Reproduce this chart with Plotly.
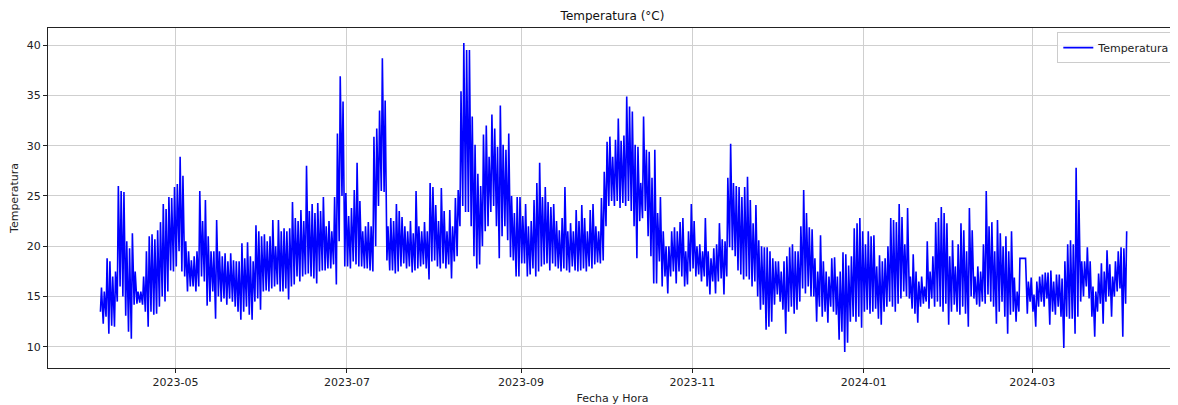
import pandas as pd
import plotly.graph_objects as go

# Daily maximum / minimum temperatures (°C), starting 2023-04-04
max_2023_04 = [15.9, 15.5, 18.8, 18.5, 17.0, 17.5, 26.0, 25.5, 25.4, 20.5, 19.8, 21.3, 17.5, 15.5,
               15.5, 17.0, 19.5, 21.0, 21.2, 20.7, 21.6, 22.4, 24.2, 23.7, 24.9, 24.8, 25.9]
min_2023_04 = [13.5, 12.3, 13.0, 11.3, 12.1, 12.0, 14.5, 16.0, 15.0, 13.1, 11.5, 10.8, 14.2, 14.3,
               14.4, 14.2, 13.5, 12.0, 13.5, 13.2, 13.3, 14.0, 15.0, 14.5, 15.5, 17.6, 17.5]
max_2023_05 = [26.2, 28.9, 27.0, 20.5, 19.5, 18.6, 19.0, 19.5, 25.5, 22.5, 24.6, 21.0, 19.5, 19.5,
               22.6, 19.5, 19.0, 19.3, 18.5, 19.3, 18.6, 18.5, 18.5, 20.3, 18.8, 20.4, 19.0, 18.5,
               22.1, 21.5, 21.0]
min_2023_05 = [18.0, 19.5, 17.5, 17.0, 15.5, 16.0, 16.0, 15.5, 16.0, 17.0, 16.5, 14.1, 14.5, 15.5,
               12.8, 15.0, 14.5, 14.8, 14.2, 14.8, 14.5, 14.0, 13.5, 12.7, 13.5, 14.0, 13.2, 12.7,
               14.5, 14.8, 13.7]
max_2023_06 = [21.2, 20.5, 21.0, 22.6, 20.0, 22.6, 21.5, 21.8, 21.5, 21.8, 24.4, 22.8, 22.5, 23.6,
               22.5, 28.0, 23.5, 24.2, 23.3, 24.3, 23.5, 24.9, 22.0, 22.5, 21.5, 24.9, 31.2, 36.9,
               34.4, 25.3]
min_2023_06 = [15.5, 15.6, 15.5, 15.8, 16.0, 16.2, 15.5, 15.5, 15.8, 14.7, 16.0, 16.2, 17.0, 16.5,
               17.0, 17.2, 17.3, 17.0, 16.8, 16.3, 17.5, 17.6, 17.6, 17.8, 17.8, 18.2, 16.2, 20.5,
               25.0, 18.0]
max_2023_07 = [23.0, 23.8, 25.6, 28.3, 24.5, 21.5, 22.0, 22.4, 22.0, 30.9, 31.7, 33.5, 38.7, 34.5,
               22.0, 22.8, 22.5, 24.2, 23.5, 22.9, 22.0, 21.5, 22.5, 21.3, 25.5, 22.0, 21.5, 22.4,
               21.5, 26.3, 25.9]
min_2023_07 = [18.0, 17.8, 18.5, 18.2, 18.0, 18.0, 17.8, 17.8, 17.6, 17.5, 20.0, 24.0, 25.5, 25.4,
               18.6, 17.6, 17.6, 17.3, 17.5, 18.0, 18.3, 17.8, 18.0, 17.4, 17.6, 17.8, 18.0, 18.2,
               17.8, 16.7, 18.5]
max_2023_08 = [24.1, 22.5, 25.8, 23.5, 21.5, 23.6, 22.0, 24.8, 25.6, 35.4, 40.2, 39.5, 39.5, 32.9,
               30.1, 27.2, 26.0, 31.1, 32.0, 28.9, 33.1, 31.7, 29.9, 34.0, 30.1, 29.6, 31.2, 25.0,
               23.3, 24.9, 24.9]
min_2023_08 = [18.6, 18.0, 17.8, 18.3, 17.8, 18.2, 16.8, 18.5, 19.0, 22.0, 24.0, 23.4, 23.4, 22.0,
               19.0, 17.8, 18.2, 20.0, 21.5, 22.0, 23.4, 24.0, 22.0, 18.8, 21.0, 22.0, 20.6, 18.9,
               18.6, 17.0, 17.0]
max_2023_09 = [23.0, 24.2, 22.0, 22.5, 24.6, 26.3, 28.3, 24.9, 25.9, 24.4, 23.9, 24.2, 22.5, 21.6,
               22.8, 25.9, 21.5, 22.3, 21.5, 23.6, 22.5, 24.1, 22.8, 21.5, 23.6, 24.2, 22.0, 21.5,
               24.8, 27.4]
min_2023_09 = [18.3, 18.3, 17.0, 17.2, 17.8, 17.0, 17.5, 18.0, 18.2, 18.3, 17.6, 18.3, 18.0, 17.8,
               17.5, 17.8, 17.6, 17.4, 18.0, 17.6, 17.5, 17.6, 17.8, 17.5, 18.0, 17.8, 18.2, 18.4,
               18.3, 18.6]
max_2023_10 = [30.4, 30.9, 28.9, 30.6, 32.7, 30.5, 31.0, 34.9, 33.9, 33.4, 30.1, 29.9, 26.3, 32.9,
               29.6, 29.4, 26.8, 29.6, 23.3, 24.9, 21.5, 20.0, 20.0, 21.5, 21.9, 21.5, 22.4, 22.8,
               19.5, 21.5, 24.2]
min_2023_10 = [22.0, 24.0, 24.5, 24.0, 24.5, 23.8, 24.3, 24.0, 24.5, 23.5, 22.0, 18.8, 22.5, 22.8,
               23.5, 21.0, 19.0, 16.3, 16.3, 18.5, 16.0, 17.0, 15.3, 17.0, 17.5, 16.3, 17.5, 17.0,
               16.0, 16.2, 17.5]
max_2023_11 = [22.5, 20.0, 20.2, 19.5, 22.8, 19.5, 18.8, 19.8, 20.2, 22.3, 20.7, 20.5, 26.8, 30.2,
               26.3, 26.0, 25.9, 24.9, 25.9, 26.9, 24.6, 22.3, 24.1, 20.6, 20.0, 19.9, 19.9, 19.5,
               18.8, 18.5]
min_2023_11 = [17.8, 17.0, 17.2, 16.5, 17.0, 16.0, 15.2, 16.5, 15.3, 16.5, 16.8, 15.2, 17.0, 19.9,
               19.6, 19.0, 17.6, 17.2, 16.7, 17.0, 16.7, 16.0, 16.5, 15.0, 13.7, 14.2, 11.7, 12.0,
               12.5, 14.2]
max_2023_12 = [18.5, 17.5, 18.5, 19.0, 19.9, 20.2, 19.5, 19.5, 22.0, 25.6, 23.3, 21.9, 21.7, 18.8,
               17.5, 21.1, 18.5, 17.5, 17.0, 18.8, 18.9, 17.0, 17.5, 19.4, 19.2, 18.1, 19.0, 21.8,
               22.3, 22.8, 21.5]
min_2023_12 = [15.2, 14.5, 13.7, 11.3, 13.5, 14.0, 13.3, 13.7, 14.5, 15.8, 15.3, 16.0, 15.0, 15.0,
               12.5, 14.0, 13.0, 13.5, 12.4, 14.0, 13.5, 13.2, 10.7, 11.5, 9.5, 10.4, 12.5, 13.0,
               12.5, 13.0, 11.9]
max_2024_01 = [20.2, 21.5, 21.0, 21.1, 18.0, 19.1, 18.5, 18.8, 20.0, 22.8, 22.6, 22.4, 24.2, 22.9,
               20.2, 23.8, 17.0, 19.2, 17.5, 16.5, 17.0, 16.0, 20.5, 17.5, 19.0, 22.4, 22.8, 23.9,
               23.3, 22.3, 19.0]
min_2024_01 = [13.5, 13.7, 13.3, 13.5, 13.8, 12.8, 12.2, 13.5, 14.0, 14.5, 14.0, 13.5, 14.3, 14.8,
               15.5, 15.0, 14.8, 13.8, 13.3, 12.4, 14.0, 14.3, 14.5, 13.8, 14.8, 14.0, 14.5, 14.0,
               13.5, 14.3, 12.2]
max_2024_02 = [20.6, 18.0, 20.2, 22.3, 21.6, 19.5, 23.8, 21.6, 17.0, 18.0, 17.5, 20.2, 25.5, 22.0,
               22.4, 19.5, 22.6, 21.3, 20.0, 21.0, 19.5, 21.5, 16.9, 15.5, 18.8, 18.8, 18.8, 16.5,
               16.9]
min_2024_02 = [13.5, 14.2, 13.5, 13.2, 14.0, 13.3, 12.0, 15.0, 14.8, 14.2, 14.0, 14.5, 14.3, 15.2,
               14.5, 14.0, 12.3, 13.5, 14.5, 13.0, 11.3, 13.2, 13.5, 12.5, 13.5, 18.8, 18.8, 13.3,
               14.5]
max_2024_03 = [15.2, 16.5, 17.0, 17.2, 17.4, 17.4, 17.6, 16.5, 17.2, 17.2, 16.8, 18.5, 20.2, 20.6,
               20.2, 27.8, 24.6, 18.5, 18.5, 19.9, 18.5, 16.0, 15.5, 17.3, 18.3, 17.5, 19.6, 18.2,
               17.0, 18.5, 19.5]
min_2024_03 = [13.5, 12.0, 14.0, 14.5, 14.0, 14.8, 12.2, 13.5, 13.2, 14.0, 13.0, 9.9, 13.0, 12.8,
               12.8, 11.3, 13.0, 14.5, 15.0, 16.0, 14.8, 13.0, 11.0, 13.5, 14.3, 12.3, 14.5, 15.0,
               13.0, 15.0, 15.5]
max_2024_04 = [19.9, 19.8, 21.5]
min_2024_04 = [15.8, 11.0, 14.3]

start_date = "2023-04-04"
tick_dates = ["2023-05-01", "2023-07-01", "2023-09-01", "2023-11-01", "2024-01-01", "2024-03-01"]
tick_labels = ["2023-05", "2023-07", "2023-09", "2023-11", "2024-01", "2024-03"]
y_ticks = [10, 15, 20, 25, 30, 35, 40]

daily_max = (max_2023_04 + max_2023_05 + max_2023_06 + max_2023_07 + max_2023_08 + max_2023_09 +
             max_2023_10 + max_2023_11 + max_2023_12 + max_2024_01 + max_2024_02 + max_2024_03 +
             max_2024_04)
daily_min = (min_2023_04 + min_2023_05 + min_2023_06 + min_2023_07 + min_2023_08 + min_2023_09 +
             min_2023_10 + min_2023_11 + min_2023_12 + min_2024_01 + min_2024_02 + min_2024_03 +
             min_2024_04)

t0 = pd.Timestamp(start_date)
xs, ys = [], []
for i, (lo, hi) in enumerate(zip(daily_min, daily_max)):
    day = t0 + pd.Timedelta(days=i)
    xs += [day + pd.Timedelta(hours=6), day + pd.Timedelta(hours=15)]
    ys += [lo, hi]

FONT = "DejaVu Sans"
fig = go.Figure()
fig.add_trace(go.Scatter(x=xs, y=ys, mode="lines", name="Temperatura",
                         line=dict(color="#0000ff", width=1.6)))

axis_common = dict(showgrid=True, gridcolor="#cfcfcf", gridwidth=1, showline=True, mirror=True,
                   linecolor="#222222", linewidth=1, ticks="outside", ticklen=4, tickcolor="#222222",
                   zeroline=False, automargin=False,
                   tickfont=dict(family=FONT, size=11, color="#222222"))

# The page body adds an 8px offset, so the figure is 8px smaller in each direction
fig.update_layout(
    width=1170, height=397,
    margin=dict(l=40, r=1, t=20, b=37, autoexpand=False),
    paper_bgcolor="white", plot_bgcolor="white",
    font=dict(family=FONT, size=11, color="#222222"),
    title=dict(text="Temperatura (°C)", xref="paper", x=0.5, xanchor="center",
               yref="container", y=0.98, yanchor="middle",
               font=dict(family=FONT, size=12, color="#111111")),
    showlegend=True,
    legend=dict(x=0.9985, xanchor="right", y=0.988, yanchor="top", bordercolor="#cccccc",
                borderwidth=1, bgcolor="rgba(255,255,255,0.8)", font=dict(family=FONT, size=11)),
    xaxis=dict(type="date", range=["2023-03-16 14:00", "2024-04-21 13:00"],
               tickvals=tick_dates, ticktext=tick_labels,
               title=dict(text="Fecha y Hora", standoff=9, font=dict(family=FONT, size=11)),
               **axis_common),
    yaxis=dict(range=[7.9, 41.7], tickvals=y_ticks,
               title=dict(text="Temperatura", standoff=6, font=dict(family=FONT, size=11)),
               **axis_common),
)

fig.write_html("out.html")
